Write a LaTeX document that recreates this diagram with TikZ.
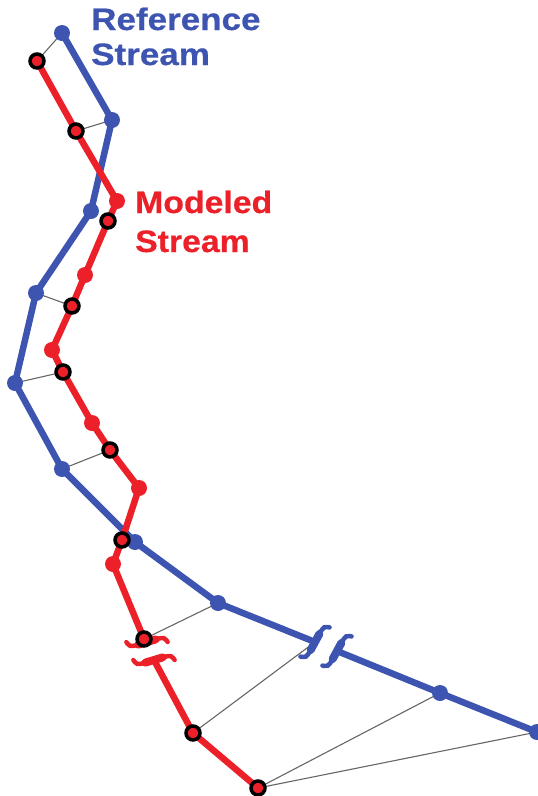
\documentclass[tikz,border=0pt]{standalone}
\usepackage{fontspec}
\setmainfont{Liberation Sans}
\newfontfamily\reffont{Liberation Sans}[FakeStretch=1.13,FakeBold=0.6]
\newfontfamily\modfont{Liberation Sans}[FakeStretch=1.09,FakeBold=0.6]
\definecolor{refblue}{RGB}{61,84,176}
\definecolor{modred}{RGB}{236,32,40}
\begin{document}
\begin{tikzpicture}[x=1pt,y=-1pt,
  refline/.style={draw=refblue,line width=6.5pt,line join=round},
  modline/.style={draw=modred,line width=6.5pt,line join=round},
  link/.style={draw=black!60,line width=1.1pt},
  bdot/.style={circle,fill=refblue,inner sep=0pt,minimum size=16pt},
  rdot/.style={circle,fill=modred,inner sep=0pt,minimum size=16pt},
  rring/.style={circle,fill=modred,draw=black,line width=3.5pt,inner sep=0pt,minimum size=14pt},
  brkthin/.style={line width=4.5pt,line cap=round},
  brkthick/.style={line width=8pt,line cap=round},
  lbl/.style={inner sep=0pt,anchor=base west}]

\useasboundingbox (0,0) rectangle (538,796);

% reference stream vertices
\coordinate (b1) at (62,33);
\coordinate (b2) at (112,120);
\coordinate (b3) at (91,211);
\coordinate (b4) at (36,293);
\coordinate (b5) at (15,383);
\coordinate (b6) at (62,469);
\coordinate (b7) at (135,542);
\coordinate (b8) at (218,603);
\coordinate (bk1) at (315,642);
\coordinate (bk2) at (337,651);
\coordinate (b9) at (440,693);
\coordinate (b10) at (537,732);

% modeled stream vertices
\coordinate (r1) at (37,61);
\coordinate (r2) at (76,131);
\coordinate (r3) at (117,201);
\coordinate (r4) at (108,221);
\coordinate (r5) at (85,275);
\coordinate (r6) at (72,306);
\coordinate (r7) at (52,350);
\coordinate (r8) at (63,372);
\coordinate (r9) at (92,423);
\coordinate (r10) at (110,450);
\coordinate (r11) at (139,488);
\coordinate (r12) at (122,540);
\coordinate (r13) at (113,564);
\coordinate (r14) at (144,639);
\coordinate (rk1) at (147,642);
\coordinate (rk2) at (154,660);
\coordinate (r15) at (193,733);
\coordinate (r16) at (258,788);

% matching links between the two streams
\draw[link] (b1) -- (r1);
\draw[link] (b2) -- (r2);
\draw[link] (b4) -- (r6);
\draw[link] (b5) -- (r8);
\draw[link] (b6) -- (r10);
\draw[link] (b8) -- (r14);
\draw[link] (bk1) -- (r15);
\draw[link] (b9) -- (r16);
\draw[link] (b10) -- (r16);

% break mark: an integral-like stroke across the line
\newcommand{\breakmark}[3]{%
  \begin{scope}[shift={(#1)},rotate=#2]
    \draw[brkthin,#3] plot[smooth] coordinates {(8,-19) (3,-17) (1,-10) (0,0) (-1,10) (-3,17) (-8,19)};
    \draw[brkthick,#3] plot[smooth] coordinates {(1,-9) (0,0) (-1,9)};
  \end{scope}}

% reference stream
\draw[refline] (b1) -- (b2) -- (b3) -- (b4) -- (b5) -- (b6) -- (b7) -- (b8) -- (bk1);
\draw[refline] (bk2) -- (b9) -- (b10);
\breakmark{bk1}{-22.1}{refblue}
\breakmark{bk2}{-22.1}{refblue}
\foreach \p in {b1,b2,b3,b4,b5,b6,b7,b8,b9,b10}
  \node[bdot] (\p dot) at (\p) {};

% modeled stream
\draw[modline] (r1) -- (r2) -- (r3) -- (r4) -- (r5) -- (r6) -- (r7) -- (r8) -- (r9) -- (r10) -- (r11) -- (r12) -- (r13) -- (r14) -- (rk1);
\draw[modline] (rk2) -- (r15) -- (r16);
\breakmark{rk1}{113.1}{modred}
\breakmark{rk2}{113.1}{modred}
\foreach \p in {r3,r5,r7,r9,r11,r13}
  \node[rdot] (\p dot) at (\p) {};
\foreach \p in {r1,r2,r4,r6,r8,r10,r12,r14,r15,r16}
  \node[rring] (\p dot) at (\p) {};

% labels
\node[lbl,text=refblue,font=\reffont\bfseries\fontsize{31}{31}\selectfont] (reflbla) at (91,30) {Reference};
\node[lbl,text=refblue,font=\reffont\bfseries\fontsize{31}{31}\selectfont] (reflblb) at (91,65) {Stream};
\node[lbl,text=modred,font=\modfont\bfseries\fontsize{31}{31}\selectfont] (modlbla) at (135,213) {Modeled};
\node[lbl,text=modred,font=\modfont\bfseries\fontsize{31}{31}\selectfont] (modlblb) at (135,252) {Stream};
\end{tikzpicture}
\end{document}
